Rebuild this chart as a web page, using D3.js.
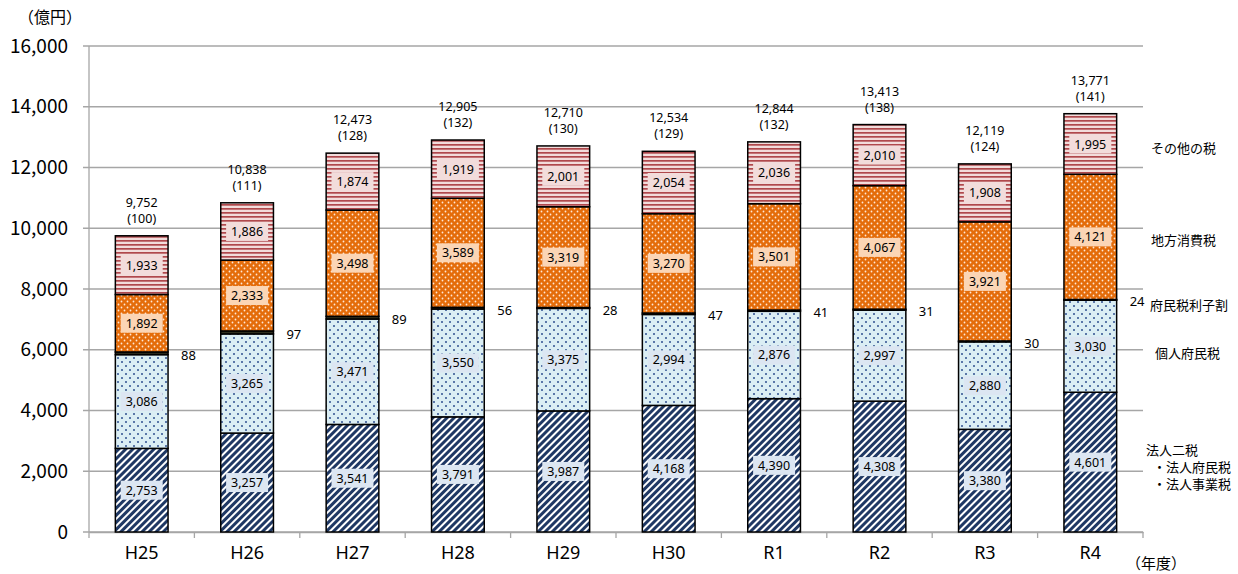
<!DOCTYPE html>
<html><head><meta charset="utf-8">
<script src="https://cdn.jsdelivr.net/npm/d3@7"></script>
<style>
body{margin:0;background:#fff;}
text{font-family:"Noto Sans CJK JP","Noto Sans",sans-serif;}
</style></head>
<body><svg id="c" width="1238" height="574"></svg>
<script>
const years = ["H25","H26","H27","H28","H29","H30","R1","R2","R3","R4"];
const corp = [2753,3257,3541,3791,3987,4168,4390,4308,3380,4601];
const indiv = [3086,3265,3471,3550,3375,2994,2876,2997,2880,3030];
const interest = [88,97,89,56,28,47,41,31,30,24];
const consumption = [1892,2333,3498,3589,3319,3270,3501,4067,3921,4121];
const other = [1933,1886,1874,1919,2001,2054,2036,2010,1908,1995];
const totals = [9752,10838,12473,12905,12710,12534,12844,13413,12119,13771];
const indexes = [100,111,128,132,130,129,132,138,124,141];
const yTicks = [0,2000,4000,6000,8000,10000,12000,14000,16000];
const seriesNames = ["法人二税","個人府民税","府民税利子割","地方消費税","その他の税"];
const seriesData = [corp, indiv, interest, consumption, other];

const svg = d3.select("#c");
const M = {l:89, r:1143, t:46, b:532};
const x = d3.scaleBand().domain(years).range([M.l, M.r]).paddingInner(0.5).paddingOuter(0.25);
const y = d3.scaleLinear().domain([0,16000]).range([M.b, M.t]);

// patterns
const defs = svg.append("defs");
let p = defs.append("pattern").attr("id","pCorp").attr("patternUnits","userSpaceOnUse")
  .attr("width",5).attr("height",5).attr("patternTransform","rotate(45)");
p.append("rect").attr("width",5).attr("height",5).attr("fill","#ffffff");
p.append("rect").attr("width",3).attr("height",5).attr("fill","#1f3864");

p = defs.append("pattern").attr("id","pIndiv").attr("patternUnits","userSpaceOnUse").attr("width",8).attr("height",8);
p.append("rect").attr("width",8).attr("height",8).attr("fill","#dbeef4");
p.append("circle").attr("cx",2).attr("cy",2).attr("r",1).attr("fill","#2f4f8f");
p.append("circle").attr("cx",6).attr("cy",6).attr("r",1).attr("fill","#2f4f8f");

p = defs.append("pattern").attr("id","pCons").attr("patternUnits","userSpaceOnUse").attr("width",6).attr("height",6);
p.append("rect").attr("width",6).attr("height",6).attr("fill","#e46c0a");
p.append("circle").attr("cx",1.5).attr("cy",1.5).attr("r",0.9).attr("fill","#ffe8d6");
p.append("circle").attr("cx",4.5).attr("cy",4.5).attr("r",0.9).attr("fill","#ffe8d6");

p = defs.append("pattern").attr("id","pOther").attr("patternUnits","userSpaceOnUse").attr("width",4).attr("height",4);
p.append("rect").attr("width",4).attr("height",4).attr("fill","#f2dcdb");
p.append("rect").attr("y",0).attr("width",4).attr("height",1.7).attr("fill","#b0484c");

const fills = ["url(#pCorp)","url(#pIndiv)","#2e2e1e","url(#pCons)","url(#pOther)"];
const boxFills = ["#dce6f2","#dce6f2",null,"#fbd5b5","#f2dcdb"];

// grid
svg.append("g").selectAll("line").data(yTicks).join("line")
  .attr("x1",M.l-6).attr("x2",M.r).attr("y1",d=>y(d)).attr("y2",d=>y(d))
  .attr("stroke","#a6a6a6").attr("stroke-width",1.3);
// y axis line
svg.append("line").attr("x1",M.l).attr("x2",M.l).attr("y1",M.t).attr("y2",M.b).attr("stroke","#a6a6a6").attr("stroke-width",1.3);
// y labels
svg.append("g").selectAll("text").data(yTicks).join("text")
  .attr("x",68).attr("y",d=>y(d)).attr("dy","0.35em").attr("text-anchor","end")
  .attr("font-size",19).attr("fill","#000").text(d=>d3.format(",")(d));
svg.append("text").attr("x",18).attr("y",23).attr("font-size",16).text("（億円）");

// x axis
const xAxis = d3.axisBottom(x).tickSize(0).tickPadding(0);
const gx = svg.append("g").attr("transform",`translate(0,${M.b})`).call(xAxis);
gx.select(".domain").attr("stroke","#a6a6a6").attr("stroke-width",1.3);
gx.selectAll("text").attr("font-size",18).attr("dy","1.5em").attr("fill","#000")
  .style("font-family","'Noto Sans','Noto Sans CJK JP',sans-serif");
const step = x.step();
const boundaries = d3.range(0,11).map(i=>M.l+i*step);
svg.append("g").selectAll("line").data(boundaries).join("line")
  .attr("x1",d=>d).attr("x2",d=>d).attr("y1",M.b).attr("y2",M.b+6).attr("stroke","#a6a6a6").attr("stroke-width",1.3);
svg.append("text").attr("x",1126).attr("y",569).attr("font-size",15).text("（年度）");

// stacks
const rows = years.map((yr,i)=>{const o={year:yr}; seriesNames.forEach((s,k)=>o[s]=seriesData[k][i]); return o;});
const stack = d3.stack().keys(seriesNames)(rows);
const bw = x.bandwidth();
stack.forEach((layer,k)=>{
  svg.append("g").selectAll("rect").data(layer).join("rect")
    .attr("x",d=>x(d.data.year)).attr("width",bw)
    .attr("y",d=>y(d[1])).attr("height",d=>y(d[0])-y(d[1]))
    .attr("fill",fills[k]).attr("stroke","#000").attr("stroke-width",1.5);
});
// labels in bars
stack.forEach((layer,k)=>{
  if(k===2) return;
  const g = svg.append("g");
  layer.forEach(d=>{
    const cx = x(d.data.year)+bw/2, cy = (y(d[0])+y(d[1]))/2;
    const t = d3.format(",")(d[1]-d[0]);
    const w = 42, h = 19;
    g.append("rect").attr("x",cx-w/2).attr("y",cy-h/2).attr("width",w).attr("height",h).attr("fill",boxFills[k]);
    g.append("text").attr("x",cx).attr("y",cy).attr("dy","0.36em").attr("text-anchor","middle")
      .attr("font-size",12.5).attr("fill","#000").style("font-family","'Noto Sans',sans-serif").text(t);
  });
});
// interest labels
svg.append("g").selectAll("text").data(stack[2]).join("text")
  .attr("x",d=>x(d.data.year)+bw+13).attr("y",d=>(y(d[0])+y(d[1]))/2 + 2).attr("dy","0.35em")
  .attr("font-size",13).style("font-family","'Noto Sans',sans-serif").text(d=>d[1]-d[0]);
// totals
const tg = svg.append("g");
years.forEach((yr,i)=>{
  const cx = x(yr)+bw/2, top = y(totals[i]);
  tg.append("text").attr("x",cx).attr("y",top-29).attr("text-anchor","middle").attr("font-size",12.5)
    .style("font-family","'Noto Sans',sans-serif").text(d3.format(",")(totals[i]));
  tg.append("text").attr("x",cx).attr("y",top-13).attr("text-anchor","middle").attr("font-size",12.5)
    .style("font-family","'Noto Sans',sans-serif").text("("+indexes[i]+")");
});
// right side legend labels
const rl = svg.append("g").attr("font-size",13);
rl.append("text").attr("x",1151).attr("y",148).attr("dy","0.35em").text("その他の税");
rl.append("text").attr("x",1151).attr("y",240).attr("dy","0.35em").text("地方消費税");
rl.append("text").attr("x",1150).attr("y",305).attr("dy","0.35em").text("府民税利子割");
rl.append("text").attr("x",1155).attr("y",353).attr("dy","0.35em").text("個人府民税");
rl.append("text").attr("x",1146).attr("y",450).attr("dy","0.35em").text("法人二税");
rl.append("text").attr("x",1153).attr("y",467).attr("dy","0.35em").text("・法人府民税");
rl.append("text").attr("x",1153).attr("y",484).attr("dy","0.35em").text("・法人事業税");
</script></body></html>
